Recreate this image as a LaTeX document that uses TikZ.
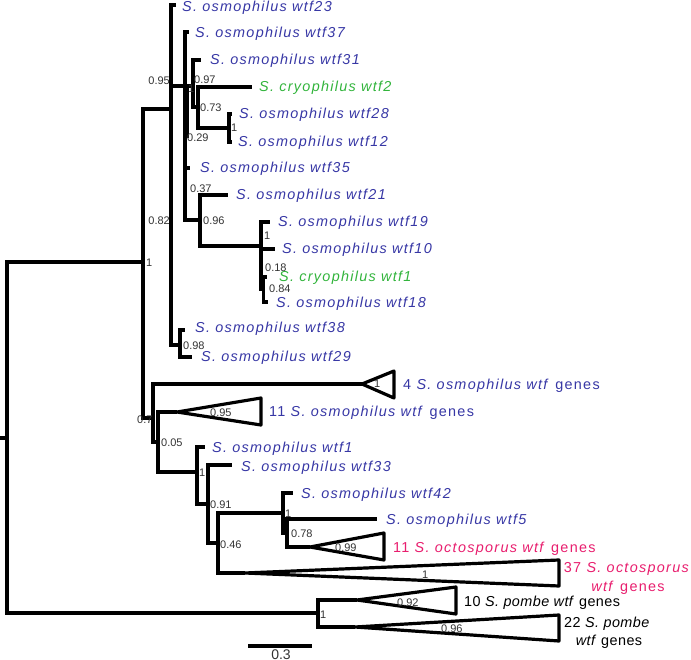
\documentclass[tikz,border=0pt]{standalone}
\usepackage{fontspec}
\setmainfont{Liberation Sans}
\newfontfamily\labfont[LetterSpace=9]{Liberation Sans}
\newfontfamily\pbfont[LetterSpace=3]{Liberation Sans}
\newfontfamily\numfont{Liberation Sans}
\definecolor{osm}{RGB}{55,55,165}
\definecolor{cry}{RGB}{50,180,60}
\definecolor{oct}{RGB}{232,30,110}
\definecolor{nlab}{RGB}{50,50,50}
\begin{document}
\begin{tikzpicture}[x=1pt,y=-1pt,
  br/.style={line width=3.2pt,line join=miter},
  tri/.style={line width=3.2pt,line join=round},
  lab/.style={anchor=west,inner sep=0pt,text height=10pt,text depth=0pt,font=\labfont\fontsize{14.4}{16}\selectfont},
  osmlab/.style={lab,text=osm},
  crylab/.style={lab,text=cry},
  octlab/.style={lab,text=oct},
  pblab/.style={anchor=west,inner sep=0pt,text height=10pt,text depth=0pt,font=\pbfont\fontsize{14.4}{16}\selectfont,text=black},
  nl/.style={anchor=west,inner sep=0pt,text height=8pt,text depth=0pt,font=\numfont\fontsize{11}{13}\selectfont,text=nlab},
  nle/.style={nl,anchor=east}]
\useasboundingbox (0,0) rectangle (691,660);
% ---- tree nodes ----
\coordinate (stub) at (0,438);
\coordinate (R) at (7,438);
\coordinate (A) at (143,262);
\coordinate (B) at (171,109);
\coordinate (t23) at (176,5);
\coordinate (D) at (171,221);
\coordinate (E) at (185,86);
\coordinate (t37) at (189,32);
\coordinate (G) at (193,86);
\coordinate (H) at (185,138);
\coordinate (E2) at (187.5,86);
\coordinate (H2) at (187.5,138);
\coordinate (t31) at (201,60);
\coordinate (L) at (198,107);
\coordinate (tc2) at (252,87);
\coordinate (M) at (229,128);
\coordinate (t28) at (232,114);
\coordinate (t12) at (232,142);
\coordinate (t35) at (190,168);
\coordinate (I) at (200,220);
\coordinate (t21) at (228,195);
\coordinate (N) at (261,246);
\coordinate (t19) at (270,222);
\coordinate (t10) at (275,249);
\coordinate (P) at (263.5,289);
\coordinate (tc1) at (267,277);
\coordinate (t18) at (268,302);
\coordinate (F) at (180,345);
\coordinate (t38) at (185,330);
\coordinate (t29) at (192,357);
\coordinate (C) at (153,418);
\coordinate (Q4) at (362,384);
\coordinate (S) at (158,442);
\coordinate (Q11) at (177,412);
\coordinate (T) at (197,472);
\coordinate (t1) at (205,447);
\coordinate (U) at (208,504);
\coordinate (t33) at (232,465);
\coordinate (V) at (218,543);
\coordinate (W) at (283,513);
\coordinate (t42) at (293,493);
\coordinate (X) at (287,533);
\coordinate (t5) at (377,519);
\coordinate (Q11o) at (310,547);
\coordinate (Q37) at (245,573);
\coordinate (PB) at (318,613);
\coordinate (Q10p) at (357,600);
\coordinate (Q22p) at (355,627);
% ---- branches ----
\draw[br] (stub) -- (R);
\draw[br] (R) |- (A); \draw[br] (R) |- (PB);
\draw[br] (A) |- (B); \draw[br] (A) |- (C);
\draw[br] (B) |- (t23); \draw[br] (B) |- (D);
\draw[br] (D) |- (E); \draw[br] (D) |- (F);
\draw[br] (E) |- (t37); \draw[br] (E) -- (G); \draw[br] (E) |- (H);
\draw[br] (E2) -- (H2);
\draw[br] (G) |- (t31); \draw[br] (G) |- (L);
\draw[br] (L) |- (tc2); \draw[br] (L) |- (M);
\draw[br] (M) |- (t28); \draw[br] (M) |- (t12);
\draw[br] (H) |- (t35); \draw[br] (H) |- (I);
\draw[br] (I) |- (t21); \draw[br] (I) |- (N);
\draw[br] (N) |- (t19); \draw[br] (N) |- (t10); \draw[br] (N) |- (P);
\draw[br] (P) |- (tc1); \draw[br] (P) |- (t18);
\draw[br] (F) |- (t38); \draw[br] (F) |- (t29);
\draw[br] (C) |- (Q4); \draw[br] (C) |- (S);
\draw[br] (S) |- (Q11); \draw[br] (S) |- (T);
\draw[br] (T) |- (t1); \draw[br] (T) |- (U);
\draw[br] (U) |- (t33); \draw[br] (U) |- (V);
\draw[br] (V) |- (W); \draw[br] (V) |- (Q37);
\draw[br] (W) |- (t42); \draw[br] (W) |- (X);
\draw[br] (X) |- (t5); \draw[br] (X) |- (Q11o);
\draw[br] (PB) |- (Q10p); \draw[br] (PB) |- (Q22p);
% ---- collapsed clades ----
\draw[tri] (Q4) -- ++(32,-13) -- ++(0,27) -- cycle;
\draw[tri] (Q11) -- ++(84,-14) -- ++(0,27) -- cycle;
\draw[tri] (Q11o) -- ++(74,-14) -- ++(0,27) -- cycle;
\draw[tri] (Q37) -- ++(314,-13) -- ++(0,26) -- cycle;
\draw[tri] (Q10p) -- ++(99,-13) -- ++(0,27) -- cycle;
\draw[tri] (Q22p) -- ++(204,-12) -- ++(0,26) -- cycle;
% ---- tip labels ----
\node[osmlab] (l23) at (182,7) {\textit{S. osmophilus wtf23}};
\node[osmlab] (l37) at (195,33) {\textit{S. osmophilus wtf37}};
\node[osmlab] (l31) at (210,60) {\textit{S. osmophilus wtf31}};
\node[crylab] (lc2) at (259,87) {\textit{S. cryophilus wtf2}};
\node[osmlab] (l28) at (239,114) {\textit{S. osmophilus wtf28}};
\node[osmlab] (l12) at (238,142) {\textit{S. osmophilus wtf12}};
\node[osmlab] (l35) at (200,168) {\textit{S. osmophilus wtf35}};
\node[osmlab] (l21) at (236,195) {\textit{S. osmophilus wtf21}};
\node[osmlab] (l19) at (278,222) {\textit{S. osmophilus wtf19}};
\node[osmlab] (l10) at (282,249) {\textit{S. osmophilus wtf10}};
\node[crylab] (lc1) at (279,277) {\textit{S. cryophilus wtf1}};
\node[osmlab] (l18) at (276,303) {\textit{S. osmophilus wtf18}};
\node[osmlab] (l38) at (195,328) {\textit{S. osmophilus wtf38}};
\node[osmlab] (l29) at (201,357) {\textit{S. osmophilus wtf29}};
\node[osmlab] (lg4) at (403,384) {4 \textit{S. osmophilus wtf} genes};
\node[osmlab] (lg11) at (269,412) {11 \textit{S. osmophilus wtf} genes};
\node[osmlab] (l1) at (212,447) {\textit{S. osmophilus wtf1}};
\node[osmlab] (l33) at (241,466) {\textit{S. osmophilus wtf33}};
\node[osmlab] (l42) at (301,493) {\textit{S. osmophilus wtf42}};
\node[osmlab] (l5) at (386,519) {\textit{S. osmophilus wtf5}};
\node[octlab] (lo11) at (393,547) {11 \textit{S. octosporus wtf} genes};
\node[octlab,anchor=center] (lo37a) at (627,567) {37 \textit{S. octosporus}};
\node[octlab,anchor=center] (lo37b) at (628,586) {\textit{wtf} genes};
\node[pblab] (lp10) at (464,601) {10 \textit{S. pombe wtf} genes};
\node[pblab,anchor=center] (lp22a) at (607,622) {22 \textit{S. pombe}};
\node[pblab,anchor=center] (lp22b) at (609,640) {\textit{wtf} genes};
% ---- support values ----
\node[nle] (s1) at (170,81) {0.95};
\node[nle] (s2) at (170,221) {0.82};
\node[nl] (s3) at (194,80) {0.97};
\node[nl] (s4) at (188,89) {1};
\node[nl] (s5) at (200,108) {0.73};
\node[nl] (s6) at (231,128) {1};
\node[nl] (s7) at (187,138) {0.29};
\node[nl] (s8) at (190,189) {0.37};
\node[nl] (s9) at (203,221) {0.96};
\node[nl] (s10) at (146,263) {1};
\node[nl] (s11) at (264,236) {1};
\node[nl] (s12) at (265,268) {0.18};
\node[nl] (s13) at (269,289) {0.84};
\node[nl] (s14) at (183,345) {0.98};
\node[nl] (s15) at (374,384) {1};
\node[nl] (s16) at (210,412) {0.95};
\node[nl] (s17) at (137,419) {0.7};
\node[nl] (s18) at (161,442) {0.05};
\node[nl] (s19) at (199,472) {1};
\node[nl] (s20) at (210,504) {0.91};
\node[nl] (s21) at (220,544) {0.46};
\node[nl] (s22) at (285,513) {1};
\node[nl] (s23) at (291,533) {0.78};
\node[nl] (s24) at (335,547) {0.99};
\node[nl] (s25) at (422,574) {1};
\node[nl] (s26) at (320,614) {1};
\node[nl] (s27) at (397,602) {0.92};
\node[nl] (s28) at (441,628) {0.96};
% ---- scale bar ----
\coordinate (sb1) at (248,646);
\coordinate (sb2) at (312,646);
\draw[br] (sb1) -- (sb2);
\node[anchor=center,inner sep=0pt,text height=10pt,text depth=0pt,font=\numfont\fontsize{14}{16}\selectfont,text=nlab] (sbl) at (281,654) {0.3};
\end{tikzpicture}
\end{document}
